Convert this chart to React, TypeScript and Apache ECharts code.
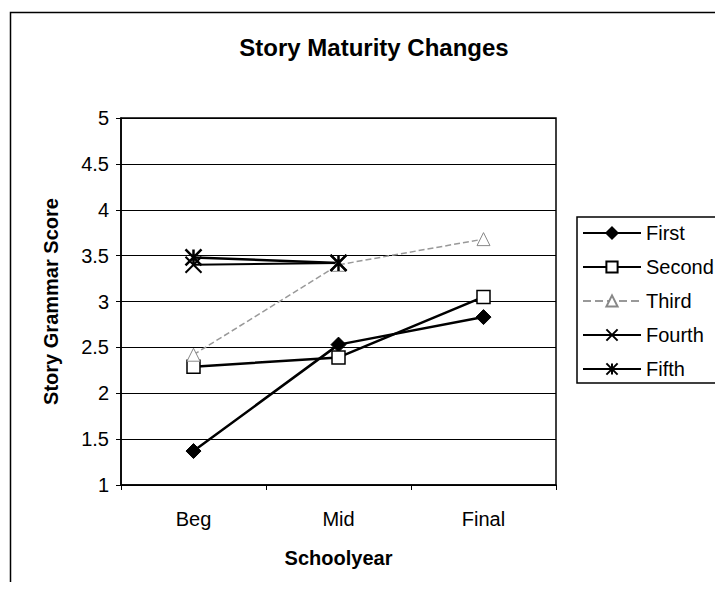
import React, { useEffect, useRef } from "react";
import * as echarts from "echarts";

const categories = ["Beg", "Mid", "Final"];
const first = [1.37, 2.53, 2.83];
const second = [2.29, 2.39, 3.05];
const third = [2.42, 3.4, 3.68];
const fourth = [3.4, 3.42, null];
const fifth = [3.48, 3.42, null];
const yTicks = { min: 1, max: 5, interval: 0.5 };

const X_PATH = "path://M0,0L10,10M10,0L0,10";
const STAR_PATH = "path://M0,0L10,10M10,0L0,10M5,0L5,10";

const FONT = "Liberation Sans";

export default function App() {
  const ref = useRef<HTMLDivElement>(null);
  useEffect(() => {
    if (!ref.current) return;
    const chart = echarts.init(ref.current, null, { renderer: "svg" });
    chart.setOption({
      animation: false,
      backgroundColor: "#fff",
      textStyle: { fontFamily: FONT, color: "#000" },
      title: {
        text: "Story Maturity Changes",
        left: 369,
        top: 30,
        textAlign: "center",
        textStyle: { fontFamily: FONT, fontSize: 24, fontWeight: "bold", color: "#000" },
      },
      graphic: [
        {
          type: "rect",
          shape: { x: 10.5, y: 12.5, width: 740, height: 620 },
          style: { fill: "none", stroke: "#000", lineWidth: 1.5 },
          silent: true,
        },
      ],
      legend: {
        orient: "vertical",
        left: 577,
        top: 217,
        padding: [6, 5, 4, 5],
        itemWidth: 58,
        itemHeight: 14,
        itemGap: 14,
        borderColor: "#000",
        borderWidth: 1.5,
        textStyle: { fontFamily: FONT, fontSize: 20, color: "#000" },
        data: ["First", "Second", "Third", "Fourth", "Fifth"],
      },
      grid: { left: 121, right: 167, top: 118, bottom: 105, show: true, borderColor: "#000", borderWidth: 1.5 },
      xAxis: {
        type: "category",
        data: categories,
        boundaryGap: true,
        name: "Schoolyear",
        nameLocation: "middle",
        nameGap: 63,
        nameTextStyle: { fontFamily: FONT, fontSize: 20, fontWeight: "bold", color: "#000" },
        axisLine: { lineStyle: { color: "#000", width: 1.5 } },
        axisTick: { show: true, length: 5, lineStyle: { color: "#000" } },
        axisLabel: { fontFamily: FONT, fontSize: 20, color: "#000", margin: 24 },
      },
      yAxis: {
        type: "value",
        min: yTicks.min,
        max: yTicks.max,
        interval: yTicks.interval,
        name: "Story Grammar Score",
        nameLocation: "middle",
        nameGap: 60,
        nameTextStyle: { fontFamily: FONT, fontSize: 20, fontWeight: "bold", color: "#000" },
        axisLine: { show: true, lineStyle: { color: "#000", width: 1.5 } },
        axisTick: { show: true, length: 5, lineStyle: { color: "#000" } },
        axisLabel: { fontFamily: FONT, fontSize: 20, color: "#000", margin: 12 },
        splitLine: { show: true, lineStyle: { color: "#000", width: 1 } },
      },
      series: [
        {
          name: "First",
          type: "line",
          data: first,
          symbol: "diamond",
          symbolSize: 15,
          itemStyle: { color: "#000", borderColor: "#000", borderWidth: 1 },
          lineStyle: { color: "#000", width: 2.5 },
        },
        {
          name: "Second",
          type: "line",
          data: second,
          symbol: "rect",
          symbolSize: 13,
          itemStyle: { color: "#fff", borderColor: "#000", borderWidth: 1.5 },
          lineStyle: { color: "#000", width: 2.5 },
        },
        {
          name: "Third",
          type: "line",
          data: third,
          symbol: "triangle",
          symbolSize: 13,
          itemStyle: { color: "#fff", borderColor: "#888", borderWidth: 1 },
          lineStyle: { color: "#999", width: 1.5, type: "dashed" },
        },
        {
          name: "Fourth",
          type: "line",
          data: fourth,
          symbol: X_PATH,
          symbolSize: 16,
          itemStyle: { color: "#000", borderColor: "#000", borderWidth: 2 },
          lineStyle: { color: "#000", width: 2 },
        },
        {
          name: "Fifth",
          type: "line",
          data: fifth,
          symbol: STAR_PATH,
          symbolSize: 16,
          itemStyle: { color: "#000", borderColor: "#000", borderWidth: 2.5 },
          lineStyle: { color: "#000", width: 2.5 },
        },
      ],
    });
    return () => chart.dispose();
  }, []);
  return <div ref={ref} style={{ width: 723, height: 590, margin: -8 }} />;
}
